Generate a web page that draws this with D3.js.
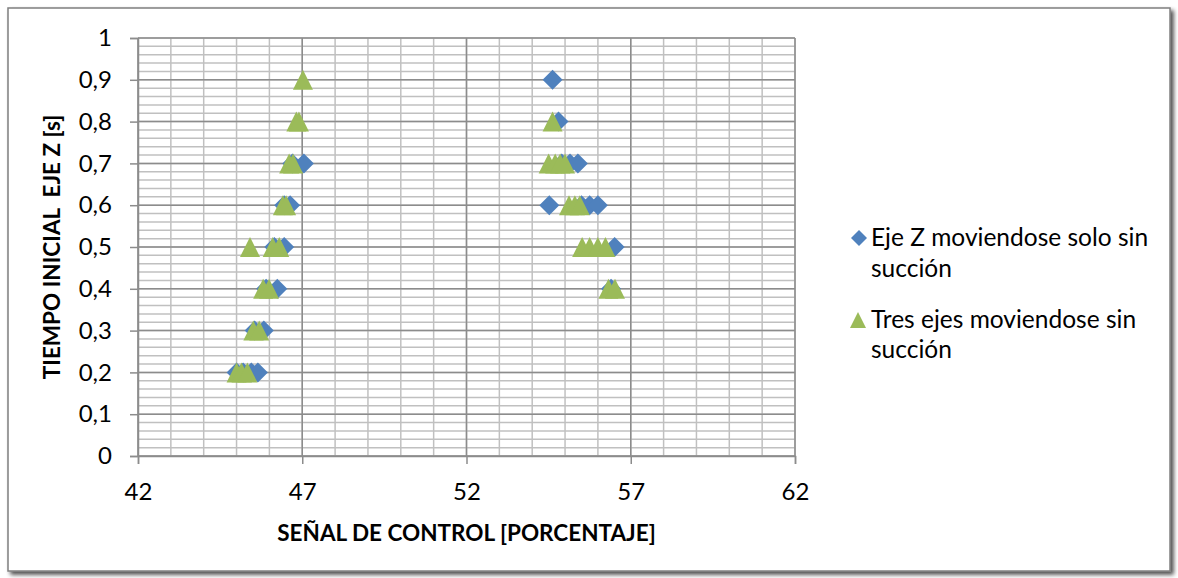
<!DOCTYPE html>
<html>
<head>
<meta charset="utf-8">
<script src="https://cdnjs.cloudflare.com/ajax/libs/d3/7.8.5/d3.min.js"></script>
<style>
  body { margin: 0; background: #fff; }
  svg { display: block; font-family: Lato, "Open Sans", sans-serif; }
  .tick text { fill: #000; }
</style>
</head>
<body>
<div id="chart"></div>
<script>
// data
var ejeZ_x = [45.0, 45.2, 45.45, 45.65, 45.55, 45.83, 45.9, 46.24, 46.15, 46.45, 46.45, 46.63, 46.7, 47.05,
              54.62, 54.8, 54.9, 55.15, 55.39, 54.52, 55.5, 55.75, 56.0, 56.51, 56.4];
var ejeZ_y = [0.2, 0.2, 0.2, 0.2, 0.3, 0.3, 0.4, 0.4, 0.5, 0.5, 0.6, 0.6, 0.7, 0.7,
              0.9, 0.8, 0.7, 0.7, 0.7, 0.6, 0.6, 0.6, 0.6, 0.5, 0.4];
var tres_x = [45.0, 45.15, 45.33, 45.51, 45.69, 45.81, 45.99, 45.41, 46.1, 46.3, 46.41, 46.51, 46.6, 46.72, 46.82, 46.9, 47.02,
              54.62, 54.5, 54.7, 54.85, 55.0, 55.12, 55.3, 55.45, 55.52, 55.75, 56.0, 56.23, 56.32, 56.52];
var tres_y = [0.2, 0.2, 0.2, 0.3, 0.3, 0.4, 0.4, 0.5, 0.5, 0.5, 0.6, 0.6, 0.7, 0.7, 0.8, 0.8, 0.9,
              0.8, 0.7, 0.7, 0.7, 0.7, 0.6, 0.6, 0.6, 0.5, 0.5, 0.5, 0.5, 0.4, 0.4];
var xTicks = [42, 47, 52, 57, 62];
var yTicks = [0, 0.1, 0.2, 0.3, 0.4, 0.5, 0.6, 0.7, 0.8, 0.9, 1];

var W = 1178, H = 578;
var pLeft = 138, pRight = 795, pTop = 38, pBottom = 456;

var svg = d3.select('#chart').append('svg').attr('width', W).attr('height', H);

// chart frame with shadow
var defs = svg.append('defs');
var f = defs.append('filter').attr('id', 'shadow').attr('x', -0.05).attr('y', -0.05).attr('width', 1.1).attr('height', 1.1);
f.append('feGaussianBlur').attr('in', 'SourceAlpha').attr('stdDeviation', 2);
f.append('feOffset').attr('dx', 3).attr('dy', 3).attr('result', 'b');
f.append('feComponentTransfer').append('feFuncA').attr('type', 'linear').attr('slope', 0.7);
var m = f.append('feMerge');
m.append('feMergeNode');
m.append('feMergeNode').attr('in', 'SourceGraphic');

svg.append('rect')
  .attr('x', 8).attr('y', 8).attr('width', 1162).attr('height', 563)
  .style('fill', '#fff').style('stroke', '#7f7f7f').style('stroke-width', 1.5)
  .attr('filter', 'url(#shadow)');

var x = d3.scaleLinear().domain([42, 62]).range([pLeft, pRight]);
var y = d3.scaleLinear().domain([0, 1]).range([pBottom, pTop]);

var grid = svg.append('g');

// minor grid
grid.selectAll('.vminor').data(d3.range(42, 63, 1)).enter().append('line')
  .attr('x1', function(d){ return x(d); }).attr('x2', function(d){ return x(d); })
  .attr('y1', pTop).attr('y2', pBottom)
  .style('stroke', '#c0c0c0').style('stroke-width', 1.5);
grid.selectAll('.hminor').data(d3.range(0, 51).map(function(i){ return i * 0.02; })).enter().append('line')
  .attr('x1', pLeft).attr('x2', pRight)
  .attr('y1', function(d){ return y(d); }).attr('y2', function(d){ return y(d); })
  .style('stroke', '#c0c0c0').style('stroke-width', 1.5);

// major grid
grid.selectAll('.vmajor').data(xTicks).enter().append('line')
  .attr('x1', function(d){ return x(d); }).attr('x2', function(d){ return x(d); })
  .attr('y1', pTop).attr('y2', pBottom)
  .style('stroke', '#8c8c8c').style('stroke-width', 1.5);
grid.selectAll('.hmajor').data(yTicks).enter().append('line')
  .attr('x1', pLeft).attr('x2', pRight)
  .attr('y1', function(d){ return y(d); }).attr('y2', function(d){ return y(d); })
  .style('stroke', '#8c8c8c').style('stroke-width', 1.5);

// axes
var xAxis = svg.append('g').attr('transform', 'translate(0,' + pBottom + ')')
  .call(d3.axisBottom(x).tickValues(xTicks).tickSize(8).tickPadding(14).tickFormat(d3.format('d')));
var yAxis = svg.append('g').attr('transform', 'translate(' + pLeft + ',0)')
  .call(d3.axisLeft(y).tickValues(yTicks).tickSize(8).tickPadding(18)
    .tickFormat(function(d){ return String(d).replace('.', ','); }));

[xAxis, yAxis].forEach(function(a){
  a.select('.domain').style('stroke', '#8c8c8c').style('stroke-width', 1.5);
  a.selectAll('.tick line').style('stroke', '#8c8c8c').style('stroke-width', 1.5);
  a.selectAll('.tick text').style('font-size', '24px').style('font-family', 'Lato, sans-serif');
});
xAxis.selectAll('.tick text').attr('dy', '0.9em');

// axis titles
svg.append('text')
  .attr('x', (pLeft + pRight) / 2).attr('y', 541)
  .attr('text-anchor', 'middle')
  .style('font-weight', 'bold').style('font-size', '22.5px')
  .text('SEÑAL DE CONTROL [PORCENTAJE]');

svg.append('text')
  .attr('transform', 'translate(60,' + (pTop + pBottom) / 2 + ') rotate(-90)')
  .attr('text-anchor', 'middle')
  .style('font-weight', 'bold').style('font-size', '22.5px')
  .style('white-space', 'pre')
  .text('TIEMPO INICIAL\u00a0\u00a0EJE Z [s]');

// markers
var diamond = 'M0,-10L10,0L0,10L-10,0Z';
var triangle = 'M0,-10L10,10L-10,10Z';

svg.append('g').selectAll('path').data(d3.range(ejeZ_x.length)).enter().append('path')
  .attr('d', diamond)
  .attr('transform', function(i){ return 'translate(' + x(ejeZ_x[i]) + ',' + y(ejeZ_y[i]) + ')'; })
  .style('fill', '#4f81bd');

svg.append('g').selectAll('path').data(d3.range(tres_x.length)).enter().append('path')
  .attr('d', triangle)
  .attr('transform', function(i){ return 'translate(' + x(tres_x[i]) + ',' + y(tres_y[i]) + ')'; })
  .style('fill', '#9bbb59');

// legend
var legend1 = svg.append('g');
legend1.append('path')
  .attr('d', 'M0,-8L8,0L0,8L-8,0Z')
  .attr('transform', 'translate(859,238)')
  .style('fill', '#4f81bd');
legend1.append('text').attr('x', 871).attr('y', 246).style('font-size', '24.5px').text('Eje Z moviendose solo sin');
legend1.append('text').attr('x', 871).attr('y', 277).style('font-size', '24.5px').text('succión');

var legend2 = svg.append('g');
legend2.append('path')
  .attr('d', 'M0,-8L8,8L-8,8Z')
  .attr('transform', 'translate(858,320)')
  .style('fill', '#9bbb59');
legend2.append('text').attr('x', 871).attr('y', 328).style('font-size', '24.5px').text('Tres ejes moviendose sin');
legend2.append('text').attr('x', 871).attr('y', 358).style('font-size', '24.5px').text('succión');
</script>
</body>
</html>
